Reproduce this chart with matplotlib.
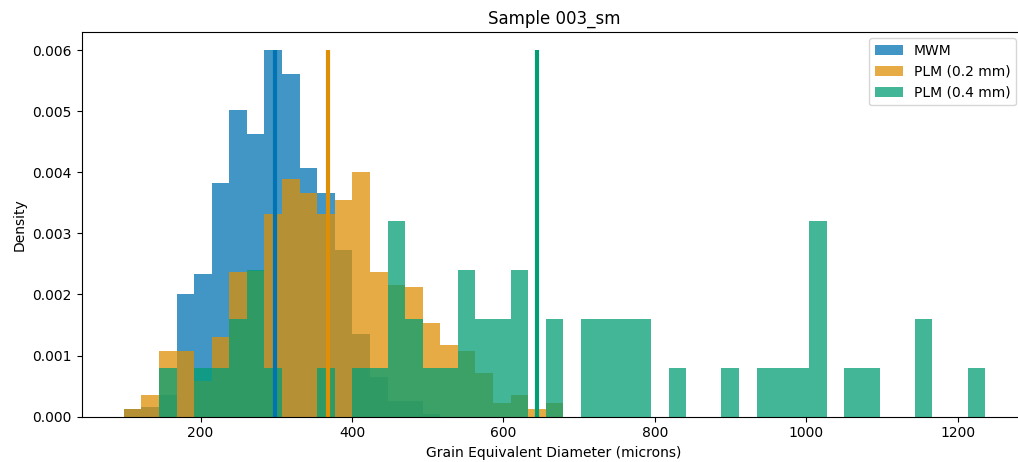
import numpy as np
import matplotlib.pyplot as plt

# Shared histogram bin edges (49 bins)
bin_edges = np.linspace(98.7, 1236.0, 50)

# Density per bin
mwm_density = [0.00012, 0.00016, 0.00035, 0.00200, 0.00234, 0.00382, 0.00502,
               0.00463, 0.00600, 0.00561, 0.00407, 0.00366, 0.00273, 0.00136,
               0.00065, 0.00025, 0.00025, 0.00005, 0.0, 0.0, 0.0, 0.0, 0.0,
               0.0, 0.0, 0.0, 0.0, 0.0, 0.0, 0.0, 0.0, 0.0, 0.0, 0.0, 0.0,
               0.0, 0.0, 0.0, 0.0, 0.0, 0.0, 0.0, 0.0, 0.0, 0.0, 0.0, 0.0,
               0.0, 0.0]

plm02_density = [0.00012, 0.00035, 0.00107, 0.00107, 0.00058, 0.00131, 0.00237,
                 0.00238, 0.00332, 0.00389, 0.00366, 0.00332, 0.00355, 0.00400,
                 0.00237, 0.00215, 0.00213, 0.00154, 0.00118, 0.00107, 0.00072,
                 0.00023, 0.00035, 0.00012, 0.00023, 0.0, 0.0, 0.0, 0.0, 0.0,
                 0.0, 0.0, 0.0, 0.0, 0.0, 0.0, 0.0, 0.0, 0.0, 0.0, 0.0, 0.0,
                 0.0, 0.0, 0.0, 0.0, 0.0, 0.0, 0.0]

plm04_density = [0.0, 0.0, 0.0008, 0.0, 0.0008, 0.0008, 0.0016, 0.0024, 0.0008,
                 0.0, 0.0, 0.0008, 0.0, 0.0008, 0.0008, 0.0032, 0.0016, 0.0008,
                 0.0008, 0.0024, 0.0016, 0.0016, 0.0024, 0.0, 0.0016, 0.0,
                 0.0016, 0.0016, 0.0016, 0.0016, 0.0, 0.0008, 0.0, 0.0, 0.0008,
                 0.0, 0.0008, 0.0008, 0.0008, 0.0032, 0.0, 0.0008, 0.0008, 0.0,
                 0.0, 0.0016, 0.0, 0.0, 0.0008]

series_labels = ["MWM", "PLM (0.2 mm)", "PLM (0.4 mm)"]
series_means = [297.7, 368.2, 644.5]
mean_line_top = 0.006

colors = ["#0173b2", "#de8f05", "#029e73"]

fig = plt.figure(figsize=(10.18, 4.62), dpi=100)
ax = fig.add_axes([81.7 / 1018, (462 - 416.7) / 462, (1026 - 81.7) / 1018, 385 / 462])

for dens, lab, col in zip([mwm_density, plm02_density, plm04_density], series_labels, colors):
    ax.hist(bin_edges[:-1], bins=bin_edges, weights=dens, alpha=0.75, color=col, label=lab)

for m, col in zip(series_means, colors):
    ax.vlines(m, 0, mean_line_top, color=col, linewidth=3)

ax.set_xlim(43, 1290)
ax.set_ylim(0, 0.0063)
ax.set_yticks([0.000, 0.001, 0.002, 0.003, 0.004, 0.005, 0.006])
ax.set_xticks([200, 400, 600, 800, 1000, 1200])
ax.set_title("Sample 003_sm", fontsize=12)
ax.set_xlabel("Grain Equivalent Diameter (microns)")
ax.set_ylabel("Density")
ax.legend(loc="upper right", bbox_to_anchor=((1016 - 81.7) / 944.3, (416.7 - 38.3) / 385),
          borderaxespad=0)

fig.savefig("out.png", dpi=100)
